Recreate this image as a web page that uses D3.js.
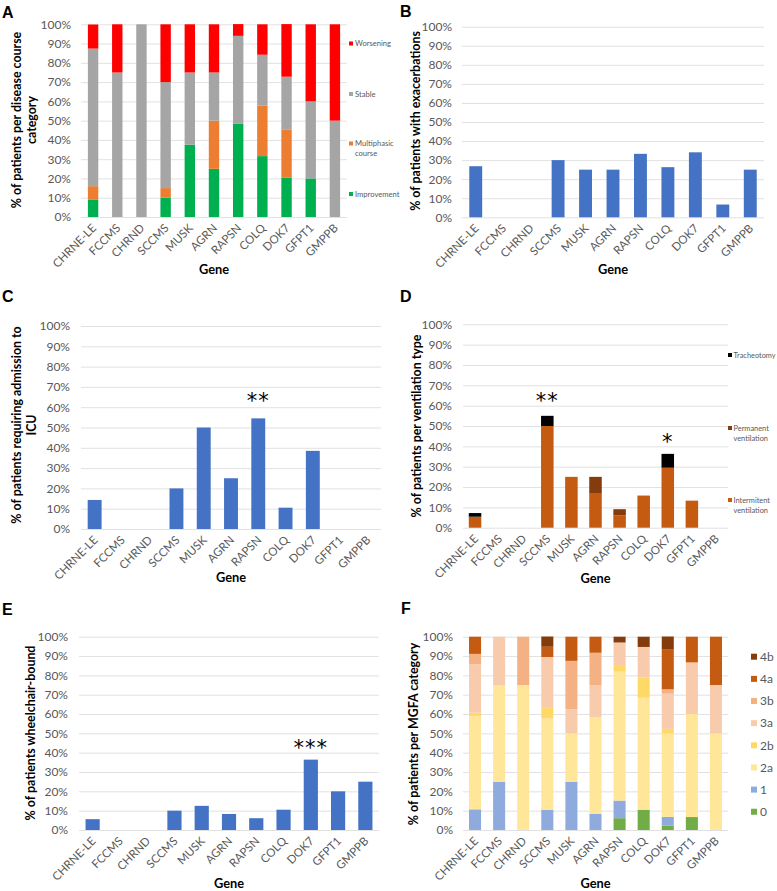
<!DOCTYPE html>
<html>
<head>
<meta charset="utf-8">
<script src="https://cdn.jsdelivr.net/npm/d3@7"></script>
<style>
  html, body { margin: 0; padding: 0; background: #fff; }
  svg { display: block; }
  text { font-family: Lato, "Open Sans", sans-serif; }
</style>
</head>
<body>
<svg id="chart" width="777" height="891"></svg>
<script>
// ---------------- DATA ----------------
const genes = ["CHRNE-LE","FCCMS","CHRND","SCCMS","MUSK","AGRN","RAPSN","COLQ","DOK7","GFPT1","GMPPB"];
const yTickValues = [0,10,20,30,40,50,60,70,80,90,100];
const yTickLabels = ["0%","10%","20%","30%","40%","50%","60%","70%","80%","90%","100%"];

// A: disease course
const courseKeys = ["Improvement","Multiphasic course","Stable","Worsening"];
const courseImprovement = [8.9, 0, 0, 10, 37.5, 25, 48.5, 31.6, 20.5, 20, 0];
const courseMultiphasic = [7.1, 0, 0, 5, 0, 25, 0, 26.3, 25, 0, 0];
const courseStable      = [71.4, 75, 100, 55, 37.5, 25, 45.5, 26.3, 27.3, 40, 50];
const courseWorsening   = [12.5, 25, 0, 30, 25, 25, 6.1, 15.8, 27.3, 40, 50];

// B: exacerbations
const exacerbations = [26.8, 0, 0, 30, 25, 25, 33.3, 26.3, 34.1, 6.7, 25];

// C: ICU admission
const icuAdmission = [14.3, 0, 0, 20, 50, 25, 54.5, 10.5, 38.5, 0, 0];

// D: ventilation
const ventKeys = ["Intermitent ventilation","Permanent ventilation","Tracheotomy"];
const ventIntermittent = [5.4, 0, 0, 50, 25, 16.7, 6.1, 15.8, 29.5, 13.3, 0];
const ventPermanent    = [0, 0, 0, 0, 0, 8.3, 3.0, 0, 0, 0, 0];
const ventTracheotomy  = [1.8, 0, 0, 5, 0, 0, 0, 0, 6.8, 0, 0];

// E: wheelchair-bound
const wheelchair = [5.6, 0, 0, 10, 12.5, 8.3, 6.1, 10.5, 36.4, 20, 25];

// F: MGFA categories
const mgfaKeys = ["0","1","2a","2b","3a","3b","4a","4b"];
const mgfa0  = [0, 0, 0, 0, 0, 0, 6.1, 10.5, 2.3, 6.7, 0];
const mgfa1  = [10.7, 25, 0, 10.5, 25, 8.3, 9.1, 0, 4.5, 0, 0];
const mgfa2a = [48.2, 50, 75, 47.4, 25, 50, 66.7, 57.9, 43.2, 53.3, 50];
const mgfa2b = [1.8, 0, 0, 5.3, 0, 0, 3.0, 10.5, 2.3, 0, 0];
const mgfa3a = [25, 25, 0, 26.3, 12.5, 16.7, 12.1, 15.8, 18.2, 26.7, 25];
const mgfa3b = [5.4, 0, 25, 0, 25, 16.7, 0, 0, 2.3, 0, 0];
const mgfa4a = [8.9, 0, 0, 5.3, 12.5, 8.3, 0, 0, 20.5, 13.3, 25];
const mgfa4b = [0, 0, 0, 5.3, 0, 0, 3.0, 5.3, 6.8, 0, 0];

// Significance annotations (gene, label, y-level in %)
const annotC = [{gene: "RAPSN", label: "**", level: 65.5}];
const annotD = [{gene: "SCCMS", label: "**", level: 64.5}, {gene: "DOK7", label: "*", level: 44.5}];
const annotE = [{gene: "DOK7", label: "***", level: 45}];

// ---------------- DRAWING ----------------
const svg = d3.select("#chart");
svg.append("rect").attr("width", 777).attr("height", 891).attr("fill", "#fff");

function buildRows(keys, arrays) {
  return genes.map((g, i) => {
    const r = {gene: g};
    keys.forEach((k, j) => r[k] = arrays[j][i]);
    return r;
  });
}

function panel(cfg) {
  const g = svg.append("g");
  const x = d3.scaleBand().domain(genes).range([cfg.x0, cfg.x1])
    .paddingInner(cfg.pad).paddingOuter(cfg.pad / 2);
  const y = d3.scaleLinear().domain([0, 100]).range([cfg.yb, cfg.yt]);

  // y axis with gridlines
  const yAxis = d3.axisLeft(y).tickValues(yTickValues)
    .tickFormat((d, i) => yTickLabels[i])
    .tickSize(-(cfg.x1 - cfg.x0)).tickPadding(cfg.tickPad);
  const ya = g.append("g").attr("transform", `translate(${cfg.x0},0)`).call(yAxis);
  ya.select(".domain").remove();
  ya.selectAll("line").attr("stroke", "#D9D9D9").attr("stroke-width", 0.8);
  ya.selectAll("text").attr("fill", "#595959").style("font-size", "12px")
    .style("font-family", "Lato, sans-serif");

  // bars
  if (cfg.stack) {
    const rows = buildRows(cfg.keys, cfg.arrays);
    const series = d3.stack().keys(cfg.keys)(rows);
    g.append("g").selectAll("g").data(series).join("g")
      .attr("fill", (d, i) => cfg.colors[i])
      .selectAll("rect").data(d => d).join("rect")
      .attr("x", d => x(d.data.gene))
      .attr("width", x.bandwidth())
      .attr("y", d => y(d[1]))
      .attr("height", d => Math.max(0, y(d[0]) - y(d[1])));
  } else {
    g.append("g").selectAll("rect").data(genes).join("rect")
      .attr("fill", cfg.color)
      .attr("x", d => x(d))
      .attr("width", x.bandwidth())
      .attr("y", (d, i) => y(cfg.values[i]))
      .attr("height", (d, i) => y(0) - y(cfg.values[i]));
  }

  // x axis labels (rotated)
  const xAxis = d3.axisBottom(x).tickSize(0).tickPadding(0);
  const xa = g.append("g").attr("transform", `translate(0,${cfg.yb})`).call(xAxis);
  xa.select(".domain").remove();
  xa.selectAll("text")
    .attr("x", 0).attr("y", 0).attr("dy", "0.35em")
    .attr("text-anchor", "end")
    .attr("transform", "translate(1,9) rotate(-45)")
    .attr("fill", "#595959").style("font-size", "11.5px")
    .style("font-family", "Lato, sans-serif");

  // axis titles
  cfg.titleLines.forEach((t, i) => {
    g.append("text")
      .attr("transform", `translate(${cfg.titleX[i]},${cfg.titleY}) rotate(-90)`)
      .attr("text-anchor", "middle").attr("dy", "0.35em")
      .style("font-size", "12.4px").style("font-weight", "bold")
      .attr("fill", "#000").text(t);
  });
  g.append("text")
    .attr("x", (cfg.x0 + cfg.x1) / 2).attr("y", cfg.geneY)
    .attr("text-anchor", "middle")
    .style("font-size", "12.8px").style("font-weight", "bold")
    .attr("fill", "#000").text("Gene");

  // panel letter
  g.append("text").attr("x", cfg.letterX).attr("y", cfg.letterY)
    .style("font-family", "'Liberation Sans', Arial, sans-serif")
    .style("font-size", "16px").style("font-weight", "bold")
    .attr("fill", "#000").text(cfg.letter);

  // annotations
  (cfg.annot || []).forEach(a => {
    const fs = 21;
    g.append("text")
      .attr("x", x(a.gene) + x.bandwidth() / 2)
      .attr("y", y(a.level) + 0.55 * fs)
      .attr("text-anchor", "middle")
      .style("font-family", "'DejaVu Sans', sans-serif")
      .style("font-size", fs + "px")
      .style("letter-spacing", "1px")
      .attr("fill", "#000").text(a.label);
  });

  // legend
  if (cfg.legend) {
    const L = cfg.legend;
    L.items.forEach((it, i) => {
      g.append("rect").attr("x", L.x).attr("y", it.y - L.size / 2)
        .attr("width", L.size).attr("height", L.size).attr("fill", it.color);
      it.lines.forEach((ln, j) => {
        g.append("text").attr("x", L.x + L.size + L.gap)
          .attr("y", it.y + j * L.lineH).attr("dy", "0.35em")
          .attr("fill", "#595959").style("font-size", L.fs + "px").text(ln);
      });
    });
  }
  return {x, y};
}

// A
const colA = ["#00B050", "#ED7D31", "#A5A5A5", "#FF0000"];
panel({
  x0: 81, x1: 347, yt: 24.3, yb: 217, pad: 0.57, tickPad: 10,
  stack: true, keys: courseKeys,
  arrays: [courseImprovement, courseMultiphasic, courseStable, courseWorsening],
  colors: colA,
  titleLines: ["% of patients per disease course", "category"], titleX: [17, 32], titleY: 120,
  geneY: 274, letter: "A", letterX: 2, letterY: 18,
  legend: {x: 349, size: 4, gap: 2, fs: 7.6, lineH: 10, items: [
    {y: 43.5, color: colA[3], lines: ["Worsening"]},
    {y: 94, color: colA[2], lines: ["Stable"]},
    {y: 143.5, color: colA[1], lines: ["Multiphasic", "course"]},
    {y: 194, color: colA[0], lines: ["Improvement"]}
  ]}
});

// B
panel({
  x0: 462, x1: 764, yt: 26.7, yb: 217.3, pad: 0.53, tickPad: 10,
  stack: false, values: exacerbations, color: "#4472C4",
  titleLines: ["% of patients with exacerbations"], titleX: [416], titleY: 121,
  geneY: 274, letter: "B", letterX: 400, letterY: 17
});

// C
panel({
  x0: 81, x1: 381, yt: 326, yb: 529, pad: 0.49, tickPad: 11,
  stack: false, values: icuAdmission, color: "#4472C4",
  titleLines: ["% of patients requiring admission to", "ICU"], titleX: [17, 32], titleY: 425,
  geneY: 582, letter: "C", letterX: 2, letterY: 302, annot: annotC
});

// D
const colD = ["#C55A11", "#843C0C", "#000000"];
panel({
  x0: 463, x1: 728, yt: 324.3, yb: 527.7, pad: 0.48, tickPad: 11,
  stack: true, keys: ventKeys,
  arrays: [ventIntermittent, ventPermanent, ventTracheotomy],
  colors: colD,
  titleLines: ["% of patients per ventilation type"], titleX: [417], titleY: 426,
  geneY: 583, letter: "D", letterX: 400, letterY: 302, annot: annotD,
  legend: {x: 728, size: 4, gap: 1.5, fs: 7.4, lineH: 10, items: [
    {y: 355, color: colD[2], lines: ["Tracheotomy"]},
    {y: 428, color: colD[1], lines: ["Permanent", "ventilation"]},
    {y: 500, color: colD[0], lines: ["Intermitent", "ventilation"]}
  ]}
});

// E
panel({
  x0: 79, x1: 379, yt: 636.7, yb: 830, pad: 0.48, tickPad: 11,
  stack: false, values: wheelchair, color: "#4472C4",
  titleLines: ["% of patients wheelchair-bound"], titleX: [31], titleY: 733,
  geneY: 888, letter: "E", letterX: 2, letterY: 615, annot: annotE
});

// F
const colF = ["#70AD47", "#8FAADC", "#FFE699", "#FFD966", "#F8CBAD", "#F4B183", "#C55A11", "#843C0C"];
const legF = mgfaKeys.map((k, i) => ({color: colF[i], lines: [k]})).reverse();
legF.forEach((d, i) => d.y = 656.7 + i * 22.15);
panel({
  x0: 463, x1: 728, yt: 636.7, yb: 830, pad: 0.5, tickPad: 10,
  stack: true, keys: mgfaKeys,
  arrays: [mgfa0, mgfa1, mgfa2a, mgfa2b, mgfa3a, mgfa3b, mgfa4a, mgfa4b],
  colors: colF,
  titleLines: ["% of patients per MGFA category"], titleX: [414], titleY: 734,
  geneY: 888, letter: "F", letterX: 401, letterY: 614,
  legend: {x: 751, size: 6, gap: 3, fs: 12, lineH: 12, items: legF}
});
</script>
</body>
</html>
